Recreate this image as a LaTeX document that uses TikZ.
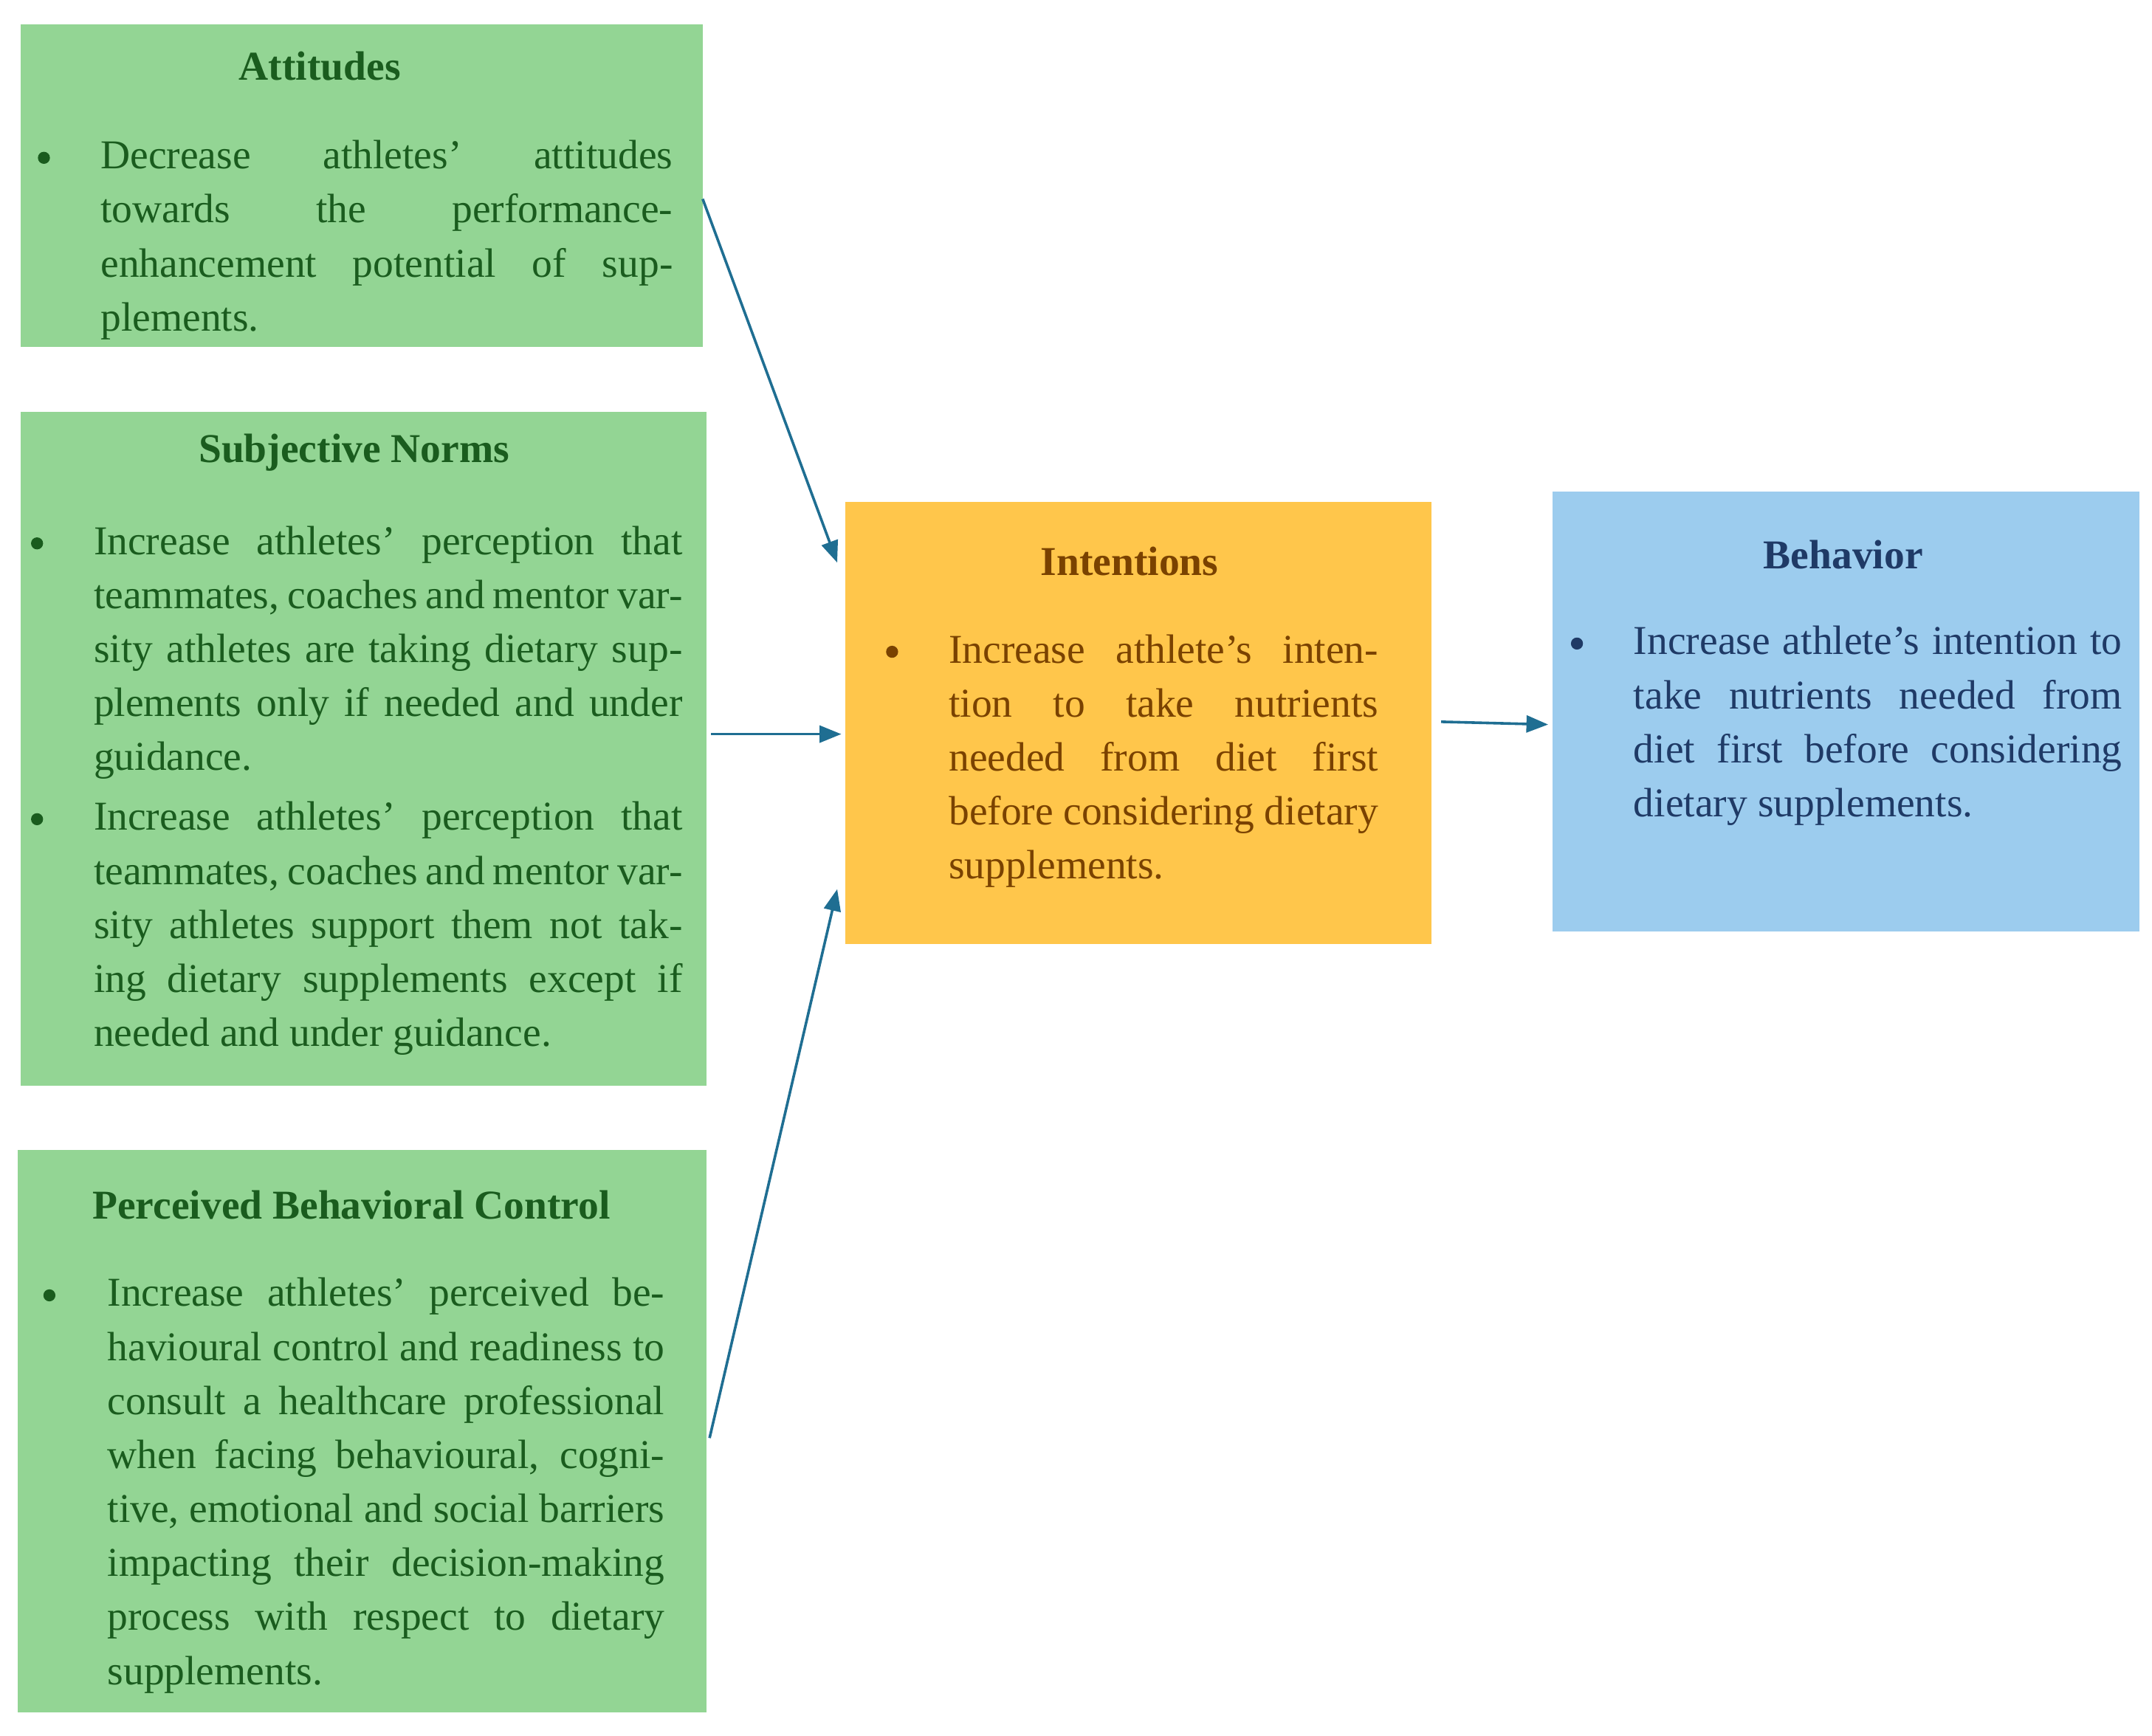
\documentclass[tikz,border=0pt]{standalone}
\usepackage{fontspec}
\setmainfont{Liberation Serif}
\usetikzlibrary{arrows.meta}
\definecolor{gbox}{HTML}{93D594}
\definecolor{obox}{HTML}{FFC64B}
\definecolor{bbox}{HTML}{9CCCEE}
\definecolor{gtxt}{HTML}{1A5C1E}
\definecolor{otxt}{HTML}{7A4200}
\definecolor{btxt}{HTML}{1F3A66}
\definecolor{arr}{HTML}{1F6E92}
\tikzset{
 box/.style={draw=none,fill=#1},
 ttl/.style={font=\fontsize{17}{22}\selectfont\bfseries,anchor=center},
 txt/.style={anchor=north west,inner sep=0pt,align=justify,font=\fontsize{17}{22.4}\selectfont},
 bul/.style={circle,fill=#1,inner sep=0pt,minimum size=5pt},
 ar/.style={draw=arr,line width=1.1pt,-{Triangle[length=9pt,width=7pt]}}
}
\begin{document}
\begin{tikzpicture}[x=0.02cm,y=-0.02cm]
\useasboundingbox[fill=white] (0,0) rectangle (1568,1265);
% boxes
\fill[gbox] (15,18) rectangle (512,253); \coordinate (a) at (512,145);
\fill[gbox] (15,300) rectangle (515,791); \coordinate (s) at (518,535);
\fill[gbox] (13,838) rectangle (515,1248); \coordinate (p) at (517,1048);
\fill[obox] (616,366) rectangle (1043,688);
\fill[bbox] (1131,358) rectangle (1559,679);
\coordinate (i1) at (610,410); \coordinate (i2) at (613,535); \coordinate (i3) at (610,648);
\coordinate (io) at (1050,526); \coordinate (bi) at (1128,528);
% titles
\node[ttl,text=gtxt] (ta) at (233,48) {Attitudes};
\node[ttl,text=gtxt] (ts) at (258,330) {Subjective Norms};
\node[ttl,text=gtxt] (tp) at (256,878) {Perceived Behavioral Control};
\node[ttl,text=otxt] (ti) at (823,409) {Intentions};
\node[ttl,text=btxt] (tb) at (1343,404) {Behavior};
% bullets and texts
\node[bul=gtxt] (b1) at (32,115) {};
\node[txt,text=gtxt,text width=8.34cm] (x1) at (73,102) {Decrease athletes’ attitudes towards the performance-enhancement potential of supplements.};
\node[bul=gtxt] (b2) at (27,396) {};
\node[txt,text=gtxt,text width=8.58cm] (x2) at (68,383) {Increase athletes’ perception that teammates, coaches and mentor varsity athletes are taking dietary supplements only if needed and under guidance.};
\node[bul=gtxt] (b3) at (27,597) {};
\node[txt,text=gtxt,text width=8.58cm] (x3) at (68,584) {Increase athletes’ perception that teammates, coaches and mentor varsity athletes support them not taking dietary supplements except if needed and under guidance.};
\node[bul=gtxt] (b4) at (36,944) {};
\node[txt,text=gtxt,text width=8.12cm] (x4) at (78,931) {Increase athletes’ perceived behavioural control and readiness to consult a healthcare professional when facing behavioural, cognitive, emotional and social barriers impacting their decision-making process with respect to dietary supplements.};
\node[bul=otxt] (b5) at (650,475) {};
\node[txt,text=otxt,text width=6.26cm] (x5) at (691,462) {Increase athlete’s intention to take nutrients needed from diet first before considering dietary supplements.};
\node[bul=btxt] (b6) at (1149,469) {};
\node[txt,text=btxt,text width=7.12cm] (x6) at (1190,456) {Increase athlete’s intention to take nutrients needed from diet first before considering dietary supplements.};
% arrows
\draw[ar] (a) -- (i1);
\draw[ar] (s) -- (i2);
\draw[ar] (p) -- (i3);
\draw[ar] (io) -- (bi);
\end{tikzpicture}
\end{document}
